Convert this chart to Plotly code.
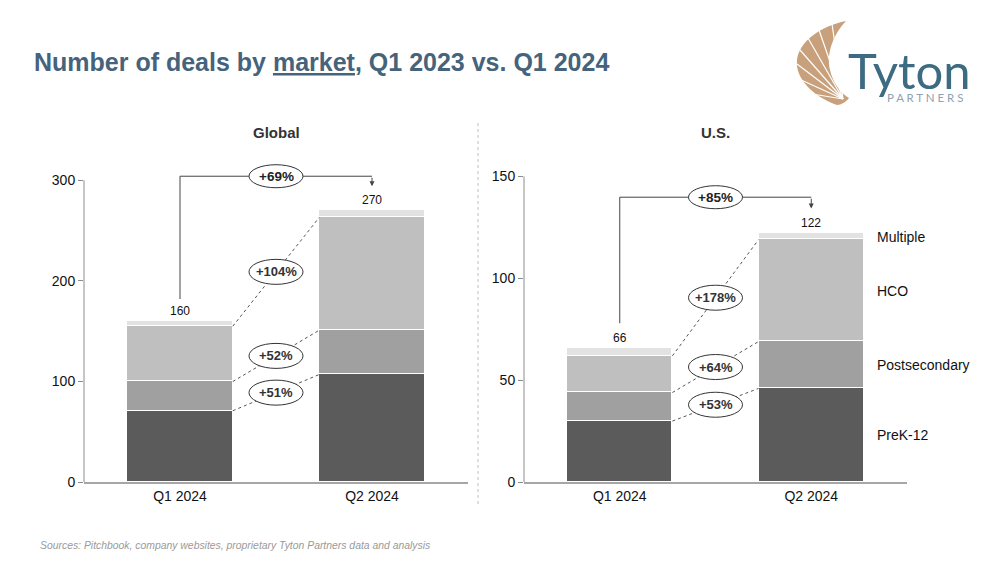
import plotly.graph_objects as go

W, H = 1000, 563

# ---------------- data ----------------
periods = ["Q1 2024", "Q2 2024"]
segments = ["PreK-12", "Postsecondary", "HCO", "Multiple"]

global_prek = [71, 107]
global_postsec = [29, 44]
global_hco = [55, 112]
global_multiple = [5, 7]
global_totals = [160, 270]
global_growth = ["+51%", "+52%", "+104%"]
global_total_growth = "+69%"
global_ticks = [0, 100, 200, 300]

us_prek = [30, 46]
us_postsec = [14, 23]
us_hco = [18, 50]
us_multiple = [4, 3]
us_totals = [66, 122]
us_growth = ["+53%", "+64%", "+178%"]
us_total_growth = "+85%"
us_ticks = [0, 50, 100, 150]

seg_colors = ["#5b5b5b", "#a0a0a0", "#bfbfbf", "#e2e2e2"]

# ---------------- figure ----------------
fig = go.Figure()
BW = 0.55
xs = [0, 1]

panels = [
    dict(xa="x", ya="y", vals=[global_prek, global_postsec, global_hco, global_multiple],
         totals=global_totals, growth=global_growth, tg=global_total_growth,
         ticks=global_ticks, yr=[0, 318], b_start=182, b_top=304, b_tip=294),
    dict(xa="x2", ya="y2", vals=[us_prek, us_postsec, us_hco, us_multiple],
         totals=us_totals, growth=us_growth, tg=us_total_growth,
         ticks=us_ticks, yr=[0, 157], b_start=78, b_top=139.8, b_tip=134.3),
]

shapes = []
annotations = []
FONT = "Liberation Sans, Arial, sans-serif"

for p in panels:
    for seg, v, c in zip(segments, p["vals"], seg_colors):
        fig.add_bar(x=xs, y=v, width=BW, name=seg, xaxis=p["xa"], yaxis=p["ya"],
                    marker=dict(color=c, line=dict(color="white", width=1.5)),
                    showlegend=False, hovertemplate=seg + ": %{y}<extra></extra>")
    cum = []
    run = [0, 0]
    for v in p["vals"]:
        run = [run[0] + v[0], run[1] + v[1]]
        cum.append(list(run))
    for i, g in enumerate(p["growth"]):
        y0, y1 = cum[i][0], cum[i][1]
        shapes.append(dict(type="line", xref=p["xa"], yref=p["ya"],
                           x0=BW / 2, y0=y0, x1=1 - BW / 2, y1=y1,
                           line=dict(color="#555555", width=1, dash="dot"), layer="above"))
    for i, g in enumerate(p["growth"]):
        y0, y1 = cum[i][0], cum[i][1]
        ym = (y0 + y1) / 2
        shapes.append(dict(type="circle", xref=p["xa"], yref=p["ya"],
                           xsizemode="pixel", ysizemode="pixel",
                           xanchor=0.5, yanchor=ym, x0=-27, x1=27, y0=-12.5, y1=12.5,
                           fillcolor="white", line=dict(color="#333333", width=1), layer="above"))
        annotations.append(dict(xref=p["xa"], yref=p["ya"], x=0.5, y=ym, text="<b>" + g + "</b>",
                                showarrow=False, xanchor="center", yanchor="middle",
                                font=dict(size=13, color="#333333", family=FONT)))
    for xi, t in zip(xs, p["totals"]):
        annotations.append(dict(xref=p["xa"], yref=p["ya"], x=xi, y=t, text=str(t),
                                showarrow=False, xanchor="center", yanchor="bottom", yshift=1,
                                font=dict(size=12, color="#111111", family=FONT)))
    shapes.append(dict(type="path", xref=p["xa"], yref=p["ya"],
                       path=f"M 0,{p['b_start']} L 0,{p['b_top']} L 1,{p['b_top']}",
                       line=dict(color="#444444", width=1), layer="above"))
    annotations.append(dict(xref=p["xa"], yref=p["ya"], x=1, y=p["b_tip"],
                            axref=p["xa"], ayref=p["ya"], ax=1, ay=p["b_top"],
                            text="", showarrow=True, arrowhead=2, arrowsize=1,
                            arrowwidth=1, arrowcolor="#444444"))
    shapes.append(dict(type="circle", xref=p["xa"], yref=p["ya"],
                       xsizemode="pixel", ysizemode="pixel",
                       xanchor=0.5, yanchor=p["b_top"], x0=-27, x1=27, y0=-11.5, y1=11.5,
                       fillcolor="white", line=dict(color="#333333", width=1), layer="above"))
    annotations.append(dict(xref=p["xa"], yref=p["ya"], x=0.5, y=p["b_top"],
                            text="<b>" + p["tg"] + "</b>", showarrow=False,
                            xanchor="center", yanchor="middle",
                            font=dict(size=13.5, color="#222222", family=FONT)))
    shapes.append(dict(type="line", xref=p["xa"] + " domain", x0=0, x1=0,
                       yref=p["ya"], y0=0, y1=p["ticks"][-1],
                       line=dict(color="#8c8c8c", width=1)))

run = 0
for seg, v in zip(segments, [us_prek, us_postsec, us_hco, us_multiple]):
    mid = run + v[1] / 2
    run += v[1]
    annotations.append(dict(xref="x2", yref="y2", x=1.335, y=mid, text=seg,
                            xanchor="left", yanchor="middle", showarrow=False,
                            font=dict(size=14, color="#111111", family=FONT)))

annotations.append(dict(xref="x", yref="paper", x=0.5, y=1 - 133 / H, text="<b>Global</b>",
                        showarrow=False, xanchor="center", yanchor="middle",
                        font=dict(size=15, color="#333333", family=FONT)))
annotations.append(dict(xref="x2", yref="paper", x=0.5, y=1 - 133 / H, text="<b>U.S.</b>",
                        showarrow=False, xanchor="center", yanchor="middle",
                        font=dict(size=15, color="#333333", family=FONT)))

annotations.append(dict(xref="paper", yref="paper", x=32 / W, y=1 - 62 / H,
                        xanchor="left", yanchor="middle",
                        text="<b>Number of deals by <u>market</u>, Q1 2023 vs. Q1 2024</b>",
                        showarrow=False,
                        font=dict(size=25, color="#46637c", family="Liberation Sans Narrow, Arial Narrow, sans-serif")))

annotations.append(dict(xref="paper", yref="paper", x=38 / W, y=1 - 545 / H,
                        xanchor="left", yanchor="middle",
                        text="<i>Sources: Pitchbook, company websites, proprietary Tyton Partners data and analysis</i>",
                        showarrow=False, font=dict(size=10.4, color="#9a9a9a", family=FONT)))

shapes.append(dict(type="line", xref="paper", yref="paper", x0=478 / W, x1=478 / W,
                   y0=1 - 123 / H, y1=1 - 505 / H, line=dict(color="#c0c0c0", width=1, dash="dot")))

# ---------------- logo ----------------
def P(x, y):
    return f"{x / W:.4f},{1 - y / H:.4f}"

shell = (f"M {P(837,105)} C {P(812,96)} {P(795,78)} {P(797,60)} "
         f"C {P(799,42)} {P(820,26)} {P(846,21)} "
         f"C {P(834,34)} {P(826,52)} {P(830,70)} "
         f"C {P(833,84)} {P(842,94)} {P(849,98)} "
         f"C {P(846,102)} {P(841,105)} {P(837,105)} Z")
shapes.append(dict(type="path", xref="paper", yref="paper", path=shell,
                   fillcolor="#c8a07c", line=dict(width=0)))
for (ex, ey) in [(806, 93), (799, 79), (797, 64), (800, 50), (808, 38), (819, 30), (832, 24)]:
    shapes.append(dict(type="line", xref="paper", yref="paper",
                       x0=843 / W, y0=1 - 99 / H, x1=ex / W, y1=1 - ey / H,
                       line=dict(color="white", width=1.2)))
annotations.append(dict(xref="paper", yref="paper", x=846 / W, y=1 - 70 / H,
                        xanchor="left", yanchor="middle",
                        text="Tyton", showarrow=False,
                        font=dict(size=49, color="#3d6b81", family="Lato, sans-serif")))
annotations.append(dict(xref="paper", yref="paper", x=885 / W, y=1 - 97 / H,
                        xanchor="left", yanchor="middle",
                        text="P A R T N E R S", showarrow=False,
                        font=dict(size=11.5, color="#8ea2b2", family="Lato, sans-serif")))

axis_common = dict(showgrid=False, zeroline=False, fixedrange=True, automargin=False)
fig.update_layout(
    template="none",
    width=W, height=H, margin=dict(l=0, r=0, t=0, b=0, pad=0),
    paper_bgcolor="white", plot_bgcolor="white",
    barmode="stack", bargap=0, showlegend=False,
    font=dict(family=FONT, color="#111111"),
    xaxis=dict(domain=[84 / W, 468 / W], range=[-0.5, 1.5], anchor="y",
               tickvals=xs, ticktext=periods, showline=True, linecolor="#a6a6a6", linewidth=2,
               ticks="", tickfont=dict(size=14, color="#111111"), **axis_common),
    yaxis=dict(domain=[0.1435, 0.712], range=[0, 318], anchor="x",
               tickvals=global_ticks, ticks="outside", ticklen=5, tickcolor="#8c8c8c",
               showline=False, tickfont=dict(size=14, color="#111111"), **axis_common),
    xaxis2=dict(domain=[524 / W, 907 / W], range=[-0.5, 1.5], anchor="y2",
                tickvals=xs, ticktext=periods, showline=True, linecolor="#a6a6a6", linewidth=2,
                ticks="", tickfont=dict(size=14, color="#111111"), **axis_common),
    yaxis2=dict(domain=[0.1435, 0.712], range=[0, 157], anchor="x2",
                tickvals=us_ticks, ticks="outside", ticklen=5, tickcolor="#8c8c8c",
                showline=False, tickfont=dict(size=14, color="#111111"), **axis_common),
    shapes=shapes, annotations=annotations,
)

fig.write_html("out.html")
